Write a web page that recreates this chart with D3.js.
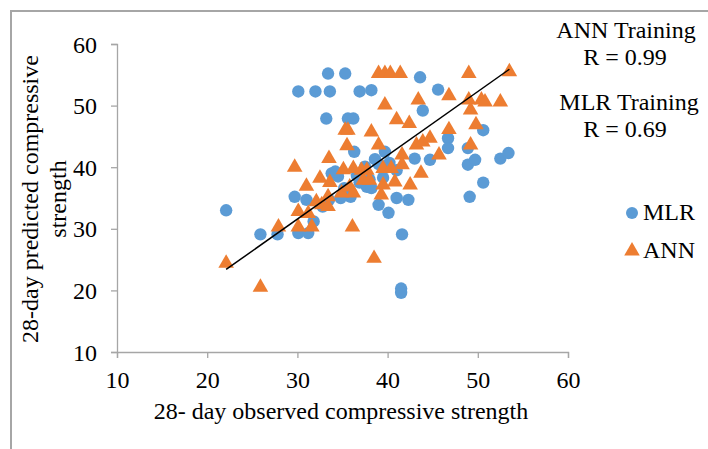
<!DOCTYPE html>
<html>
<head>
<meta charset="utf-8">
<script src="https://cdn.jsdelivr.net/npm/d3@7"></script>
<style>
  body { margin: 0; background: #fff; }
  svg text { font-family: "Liberation Serif", "Times New Roman", serif; fill: #000; }
</style>
</head>
<body>
<div id="chart"></div>
<script>
// observed (x) vs predicted (y) 28-day compressive strength
var mlrX = [22.1, 25.9, 27.8, 29.7, 30.1, 31.2, 31.0, 31.8, 30.1, 32.0, 33.6, 33.4, 35.3, 33.2, 35.6, 36.2,
  36.9, 38.2, 36.3, 43.6, 45.6, 43.9, 39.7, 38.6, 43.0, 44.7, 39.0, 40.1, 41.0, 42.3, 41.6, 41.5,
  41.5, 37.7, 41.0, 46.7, 46.7, 48.9, 48.9, 49.7, 50.6, 52.5, 53.4, 50.6, 49.1,
  33.8, 34.5, 35.2, 35.9, 34.8, 33.5, 32.8, 36.6, 36.9, 37.5, 38.0, 38.2, 39.0, 40.2, 39.5, 34.2];
var mlrY = [33.0, 29.1, 29.1, 35.2, 29.3, 29.3, 34.7, 31.2, 52.3, 52.3, 52.3, 55.2, 55.2, 47.9, 47.9, 47.9,
  52.3, 52.5, 42.5, 54.6, 52.6, 49.2, 42.5, 41.3, 41.4, 41.2, 33.9, 32.6, 35.0, 34.7, 29.1, 20.3,
  19.6, 36.8, 39.5, 44.7, 43.1, 43.1, 40.4, 41.2, 46.0, 41.4, 42.3, 37.5, 35.2,
  39.0, 38.5, 36.6, 35.2, 35.0, 34.7, 33.6, 38.6, 37.5, 40.1, 38.0, 36.6, 40.5, 40.7, 38.3, 39.3];

var annX = [22.1, 25.9, 27.9, 29.7, 30.1, 30.1, 31.0, 31.2, 31.6, 32.1, 32.5, 32.7, 33.4, 33.4, 33.5, 33.6,
  34.9, 35.1, 35.3, 35.6, 35.5, 35.8, 36.1, 36.2, 36.2, 37.1, 37.3, 37.7, 38.0, 38.2, 38.5, 39.0,
  39.7, 40.3, 41.4, 39.0, 39.3, 39.5, 39.5, 39.7, 40.4, 40.8, 41.0, 41.6, 41.6, 42.4, 42.5, 43.2,
  43.4, 43.7, 43.9, 44.7, 45.7, 46.8, 46.8, 49.0, 49.0, 49.2, 49.2, 49.8, 50.4, 50.8, 52.5, 53.5];
var annY = [24.4, 20.5, 30.3, 40.0, 32.8, 30.3, 36.9, 32.5, 30.3, 34.4, 38.2, 33.9, 35.2, 33.6, 41.4, 37.5,
  35.8, 39.6, 46.0, 46.0, 43.5, 36.8, 30.3, 39.8, 35.8, 39.5, 37.9, 39.5, 37.9, 45.7, 25.2, 55.2,
  55.2, 55.2, 55.2, 43.6, 35.5, 37.1, 39.8, 50.1, 39.8, 37.6, 47.7, 42.0, 40.4, 47.1, 37.1, 43.6,
  50.9, 39.0, 44.1, 44.7, 42.0, 51.6, 46.1, 55.2, 50.9, 49.3, 43.6, 46.9, 50.9, 50.6, 50.6, 55.5];

// fitted line end points
var trendX = [22.1, 53.5];
var trendY = [23.4, 55.9];

var ticks = [10, 20, 30, 40, 50, 60];
var notes = [["ANN Training", "R = 0.99"], ["MLR Training", "R = 0.69"]];
var seriesNames = ["MLR", "ANN"];
var colors = ["#5B9BD5", "#ED7D31"];

var width = 708, height = 449;
var fs = "24px";
var serif = "'Liberation Serif', 'Times New Roman', serif";

var svg = d3.select("#chart").append("svg")
  .attr("width", width)
  .attr("height", height);

// outer chart border (only top and left visible in the original crop)
svg.append("path")
  .attr("d", "M11,449 V11 H708")
  .attr("fill", "none")
  .attr("stroke", "#a6a6a6")
  .attr("stroke-width", 2);

var x = d3.scaleLinear().domain([10, 60]).range([117, 568]);
var y = d3.scaleLinear().domain([10, 60]).range([352, 44]);

var xAxis = svg.append("g")
  .attr("transform", "translate(0,352)")
  .call(d3.axisBottom(x).tickValues(ticks).tickSize(6).tickPadding(13));
var yAxis = svg.append("g")
  .attr("transform", "translate(117,0)")
  .call(d3.axisLeft(y).tickValues(ticks).tickSize(6).tickPadding(14));

[xAxis, yAxis].forEach(function(g){
  g.attr("font-family", serif);
  g.selectAll("path, line").attr("stroke", "#a6a6a6").attr("stroke-width", 1.3);
  g.selectAll("text").style("font-size", fs).style("font-family", serif).style("font-weight", "normal");
});
yAxis.selectAll("text").attr("dy", "0.34em");

// axis titles
svg.append("text")
  .attr("x", 341).attr("y", 419)
  .attr("text-anchor", "middle")
  .style("font-size", fs)
  .text("28- day observed compressive strength");

var yt = svg.append("text")
  .attr("transform", "translate(38,199) rotate(-90)")
  .attr("text-anchor", "middle")
  .style("font-size", fs);
yt.append("tspan").attr("x", 0).attr("y", 0).text("28-day predicted compressive");
yt.append("tspan").attr("x", 0).attr("y", 28).text("strength");

// MLR points
svg.append("g").selectAll("circle")
  .data(d3.range(mlrX.length))
  .enter().append("circle")
    .attr("cx", function(i){ return x(mlrX[i]); })
    .attr("cy", function(i){ return y(mlrY[i]); })
    .attr("r", 6.2)
    .attr("fill", colors[0]);

// ANN points
svg.append("g").selectAll("path")
  .data(d3.range(annX.length))
  .enter().append("path")
    .attr("d", d3.symbol().type(d3.symbolTriangle).size(105))
    .attr("transform", function(i){ return "translate(" + x(annX[i]) + "," + y(annY[i]) + ")"; })
    .attr("fill", colors[1]);

// trend line
svg.append("line")
  .attr("x1", x(trendX[0])).attr("y1", y(trendY[0]))
  .attr("x2", x(trendX[1])).attr("y2", y(trendY[1]))
  .attr("stroke", "#000")
  .attr("stroke-width", 1.5);

// R annotations
var noteY = [38, 110];
var noteX = [626, 629];
notes.forEach(function(n, k){
  var t = svg.append("text")
    .attr("text-anchor", "middle")
    .style("font-size", fs);
  t.append("tspan").attr("x", noteX[k]).attr("y", noteY[k]).text(n[0]);
  t.append("tspan").attr("x", 625).attr("y", noteY[k] + 27).text(n[1]);
});

// legend
var leg = svg.append("g");
leg.append("circle").attr("cx", 632).attr("cy", 213).attr("r", 6).attr("fill", colors[0]);
leg.append("path")
  .attr("d", d3.symbol().type(d3.symbolTriangle).size(105))
  .attr("transform", "translate(632,251)")
  .attr("fill", colors[1]);
seriesNames.forEach(function(s, k){
  leg.append("text")
    .attr("x", 643).attr("y", 220 + k * 38)
    .style("font-size", fs)
    .text(s);
});
</script>
</body>
</html>
